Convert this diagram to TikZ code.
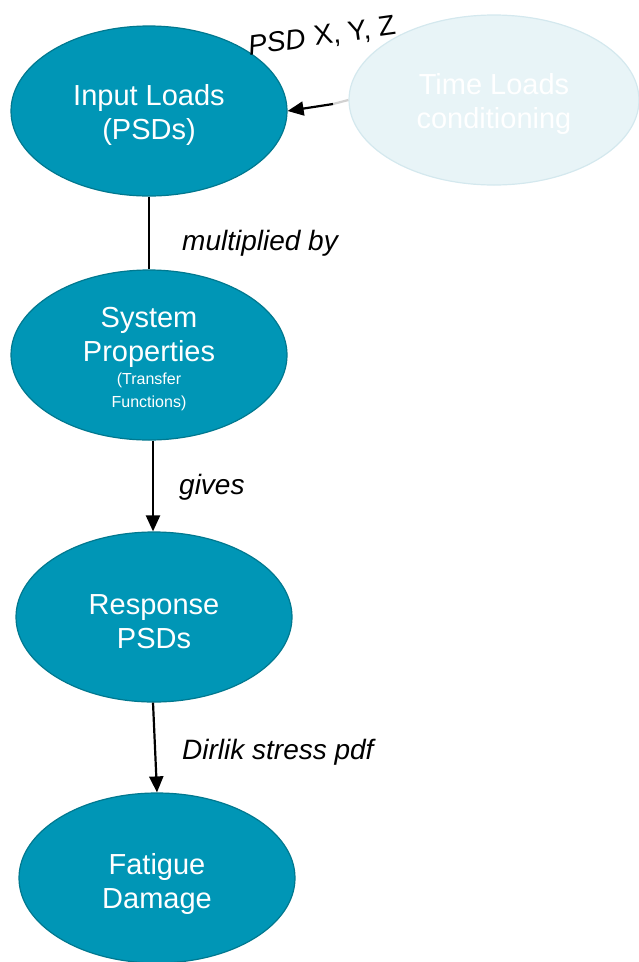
\documentclass[tikz,border=0pt]{standalone}
\usepackage{fontspec}
\setmainfont{Liberation Sans}
\usetikzlibrary{shapes.geometric,arrows.meta}
\definecolor{teal1}{HTML}{0096B6}
\definecolor{teal2}{HTML}{00788F}
\definecolor{pale1}{HTML}{E8F4F7}
\definecolor{pale2}{HTML}{D4E8EE}
% strut that pushes the first line of a stage label down a little
\newcommand{\toppad}{\rule{0pt}{29pt}}
\tikzset{
  stage/.style={ellipse, draw=teal2, line width=1.2pt, fill=teal1, text=white,
    minimum width=276pt, minimum height=170pt, inner sep=0pt, align=center,
    font=\fontsize{29}{34}\selectfont},
  faded/.style={stage, draw=pale2, fill=pale1, minimum width=290pt},
  link/.style={line width=2.2pt, draw=black},
  arr/.style={link, -{Triangle[length=16pt,width=14pt]}},
  note/.style={font=\fontsize{28}{34}\selectfont\itshape, anchor=west, inner sep=0pt}
}
\begin{document}
\begin{tikzpicture}[x=1pt,y=-1pt]
\useasboundingbox (0,0) rectangle (639,962);
\node[stage] (inp) at (149,111) {\toppad Input Loads\\(PSDs)};
\node[faded] (tl) at (494,100) {\toppad Time Loads\\conditioning};
\node[stage] (sys) at (149,355) {\rule{0pt}{32pt}System\\Properties\\[1pt]%
  {\fontsize{16}{23}\selectfont\begin{tabular}{@{}c@{}}(Transfer\\Functions)\end{tabular}}};
\node[stage] (resp) at (154,617) {\toppad Response\\PSDs};
\node[stage] (fat) at (157,878) {\rule{0pt}{33pt}Fatigue\\Damage};

% connectors
\coordinate (bend) at (333,104);
\draw[line width=2.2pt, draw=black!18] (tl.west) -- (bend);
\draw[arr] (bend) -- (inp.east);
\draw[link] (inp.south) -- (sys.north);
\draw[arr] ([xshift=4pt]sys.south) -- ([xshift=-1pt]resp.north);
\draw[arr] ([xshift=-1pt]resp.south) -- (fat.north);

% labels
\node[rotate=8, inner sep=0pt, font=\fontsize{28}{32}\selectfont] (psd) at (322,37) {\textit{PSD}\kern1pt{} X, Y, Z};
\node[note] (mul) at (182,243) {multiplied by};
\node[note] (giv) at (179,487) {gives};
\node[note] (dir) at (182,752) {Dirlik stress pdf};
\end{tikzpicture}
\end{document}
